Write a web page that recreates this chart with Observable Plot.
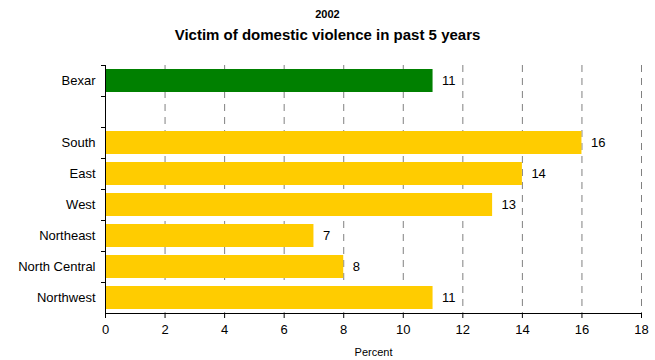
<!DOCTYPE html>
<html>
<head>
<meta charset="utf-8">
<script src="https://cdn.jsdelivr.net/npm/d3@7"></script>
<script src="https://cdn.jsdelivr.net/npm/@observablehq/plot@0.6"></script>
<style>
  body { margin: 0; background: #fff; font-family: "Liberation Sans", Arial, sans-serif; }
  #wrap { width: 655px; }
  .sup { text-align: center; font-weight: bold; font-size: 11px; height: 13px; padding-top: 8px; line-height: 13px; }
  .ttl { text-align: center; font-weight: bold; font-size: 15px; height: 21px; padding-top: 3px; line-height: 21px; }
  #chart svg text { font-family: "Liberation Sans", Arial, sans-serif; }
</style>
</head>
<body>
<div id="wrap">
  <div class="sup">2002</div>
  <div class="ttl">Victim of domestic violence in past 5 years</div>
  <div id="chart"></div>
</div>
<script>
const categories = ["Bexar", " ", "South", "East", "West", "Northeast", "North Central", "Northwest"];
const regions = ["Bexar", "South", "East", "West", "Northeast", "North Central", "Northwest"];
const values = [11, 16, 14, 13, 7, 8, 11];
const groups = ["county", "region", "region", "region", "region", "region", "region"];
const xTicks = [0, 2, 4, 6, 8, 10, 12, 14, 16, 18];
const gridTicks = [2, 4, 6, 8, 10, 12, 14, 16, 18];

const data = regions.map((r, i) => ({region: r, value: values[i], group: groups[i]}));

const H = 315, mt = 20, mb = 47;
const band = (H - mt - mb) / categories.length;

const chart = Plot.plot({
  width: 655,
  height: H,
  marginLeft: 105,
  marginRight: 14,
  marginTop: mt,
  marginBottom: mb,
  style: {fontFamily: "Liberation Sans, Arial, sans-serif", fontSize: "13px", color: "#000", background: "#fff"},
  x: {domain: [0, 18]},
  y: {domain: categories, padding: 0, label: null},
  color: {domain: ["county", "region"], range: ["#008000", "#FFCC00"]},
  marks: [
    Plot.ruleX(gridTicks, {stroke: "#808080", strokeDasharray: "7,6", strokeWidth: 1, strokeOpacity: 1}),
    Plot.barX(data, {y: "region", x: "value", fill: "group", insetTop: 4, insetBottom: 4}),
    Plot.text(data, {y: "region", x: "value", text: d => String(d.value), textAnchor: "start", dx: 9, fontSize: 13, fill: "#000"}),
    Plot.tickY(categories, {y: d => d, dy: -band / 2, insetRight: 536 - 4, dx: -4, stroke: "#000"}),
    Plot.ruleX([0], {stroke: "#000", strokeWidth: 1}),
    Plot.axisY({tickSize: 0, tickPadding: 10, fontSize: 13, label: null}),
    Plot.axisX(xTicks, {tickSize: 5, tickPadding: 6, fontSize: 13, label: null}),
    Plot.axisX({ticks: [], tickSize: 0, label: "Percent", labelArrow: "none", labelAnchor: "center", labelOffset: 42, fontSize: 11}),
    Plot.ruleY(["Northwest"], {dy: band / 2, stroke: "#000"})
  ]
});
document.getElementById("chart").appendChild(chart);
</script>
</body>
</html>
